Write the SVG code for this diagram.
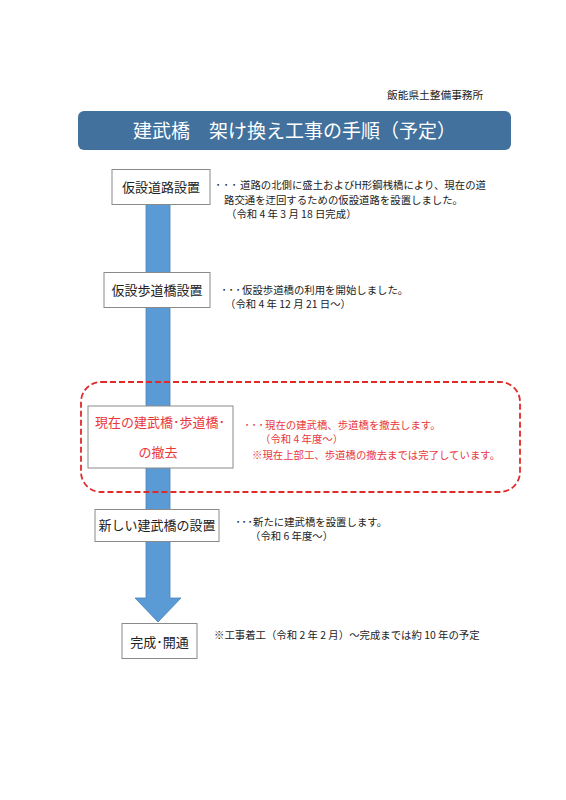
<svg xmlns="http://www.w3.org/2000/svg" width="566" height="800" viewBox="0 0 566 800">
<style>
text{font-family:"Noto Sans CJK JP","Noto Sans",sans-serif;fill:#222}
.b{fill:#fff;stroke:#8a8a8a;stroke-width:1}
.bt{font-size:13px;text-anchor:middle}
.t{font-size:10.4px}
.r{fill:#e8383d}
</style>
<rect width="566" height="800" fill="#fff"/>
<text x="387" y="99" style="font-size:10.7px">飯能県土整備事務所</text>
<g id="title">
<rect x="78" y="111" width="433" height="39" rx="6" fill="#41719c"/>
<text x="294.5" y="137.5" style="font-size:19px;fill:#fff;text-anchor:middle">建武橋　架け換え工事の手順（予定）</text>
</g>
<g id="connectors">
<path d="M146,200 H170 V598 H181 L158,622 L135,598 H146 Z" fill="#5b9bd5" stroke="#4a84bb" stroke-width="0.8"/>
</g>
<g id="frame">
<rect x="81" y="382" width="439" height="110" rx="20" fill="none" stroke="#e02b2b" stroke-width="1.8" stroke-dasharray="6,3"/>
</g>
<g id="n1">
<rect class="b" x="112" y="169.5" width="98" height="35"/>
<text class="bt" x="161" y="192">仮設道路設置</text>
<text class="t"><tspan x="215.5 223.5 231.5" y="189">･･･</tspan><tspan x="240" y="189">道路の北側に盛土およびH形鋼桟橋により、現在の道</tspan><tspan x="224" y="203.5">路交通を迂回するための仮設道路を設置しました。</tspan><tspan x="226" y="218">（令和 4 年 3 月 18 日完成）</tspan></text>
</g>
<g id="n2">
<rect class="b" x="104" y="272.5" width="106" height="35"/>
<text class="bt" x="157" y="295">仮設歩道橋設置</text>
<text class="t"><tspan x="221.5 228.5 235.5" y="294">･･･</tspan><tspan x="242" y="294">仮設歩道橋の利用を開始しました。</tspan><tspan x="225" y="307.5">（令和 4 年 12 月 21 日～）</tspan></text>
</g>
<g id="n3">
<rect class="b" x="88" y="406" width="145" height="62"/>
<text class="bt r" x="160" y="427">現在の建武橋･歩道橋･</text>
<text class="bt r" x="158" y="457">の撤去</text>
<text class="t r"><tspan x="244.5 251.5 258.5" y="429">･･･</tspan><tspan x="265" y="429">現在の建武橋、歩道橋を撤去します。</tspan><tspan x="260" y="443">（令和 4 年度～）</tspan><tspan x="252" y="459">※現在上部工、歩道橋の撤去までは完了しています。</tspan></text>
</g>
<g id="n4">
<rect class="b" x="95" y="509.5" width="124" height="32"/>
<text class="bt" x="157" y="530">新しい建武橋の設置</text>
<text class="t"><tspan x="235.5 241.5 247.5" y="526">･･･</tspan><tspan x="253" y="526">新たに建武橋を設置します。</tspan><tspan x="250" y="540">（令和 6 年度～）</tspan></text>
</g>
<g id="n5">
<rect class="b" x="122" y="623.5" width="75" height="35"/>
<text class="bt" x="159.5" y="647">完成･開通</text>
<text class="t" x="214" y="639">※工事着工（令和 2 年 2 月）～完成までは約 10 年の予定</text>
</g>
</svg>
